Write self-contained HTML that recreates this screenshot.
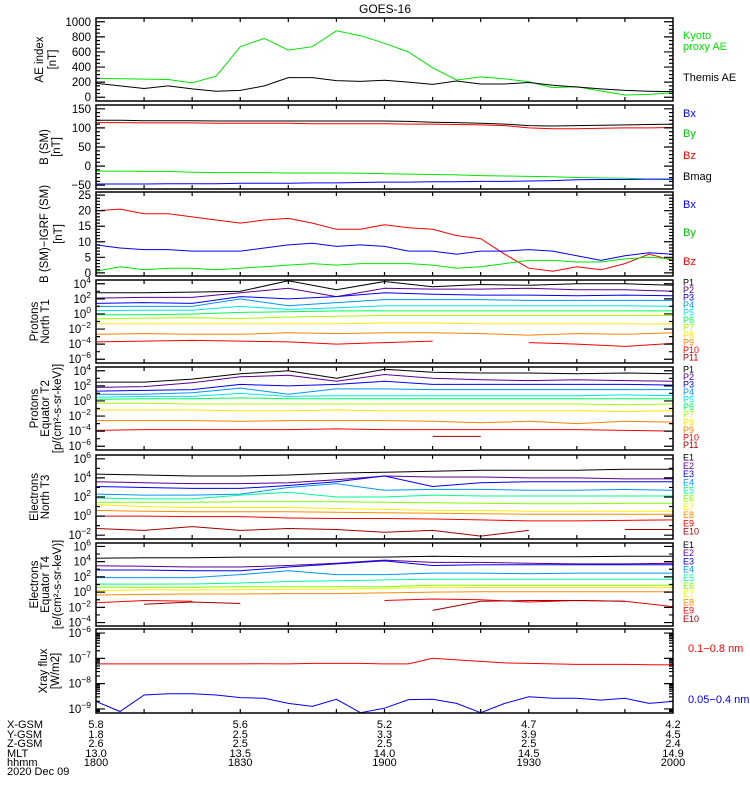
<!DOCTYPE html>
<html><head><meta charset="utf-8"><title>GOES-16</title>
<style>
html,body{margin:0;padding:0;background:#fff;}
svg{display:block;font-family:"Liberation Sans",sans-serif;}
</style></head>
<body>
<svg id="chart" width="750" height="800" viewBox="0 0 750 800" xmlns="http://www.w3.org/2000/svg">
<rect x="0" y="0" width="750" height="800" fill="#fff"/>
<text x="385" y="13" font-size="12" text-anchor="middle">GOES-16</text>
<g font-size="11">
<text x="7" y="728">X-GSM</text><text x="7" y="738">Y-GSM</text><text x="7" y="747">Z-GSM</text><text x="7" y="757">MLT</text><text x="7" y="766">hhmm</text><text x="7" y="775">2020 Dec 09</text>
</g>
<g id="plots"></g>
</svg>
<script>
// ---- data ----
const T25=[0,5,10,15,20,25,30,35,40,45,50,55,60,65,70,75,80,85,90,95,100,105,110,115,120];
const T13=[0,10,20,30,40,50,60,70,80,90,100,110,120];
const tickTimes=[0,30,60,90,120];
const xgsm=['5.8','5.6','5.2','4.7','4.2'];
const ygsm=['1.8','2.5','3.3','3.9','4.5'];
const zgsm=['2.6','2.5','2.5','2.5','2.4'];
const mlt=['13.0','13.5','14.0','14.5','14.9'];
const hhmm=['1800','1830','1900','1930','2000'];

const aeKyoto=[250,245,240,235,190,280,670,780,625,670,880,815,715,600,390,228,270,243,205,127,140,83,30,38,60];
const aeThemis=[185,150,115,150,110,80,90,150,260,260,220,210,225,200,170,215,175,175,195,160,135,110,90,80,75];

const bBx=[-47,-47,-47,-46,-46,-46,-45,-45,-45,-44,-44,-43,-42,-42,-41,-41,-40,-40,-39,-38,-36,-35,-35,-34,-34];
const bBy=[-13,-13,-14,-14,-16,-17,-17,-17,-18,-18,-18,-19,-20,-21,-22,-23,-25,-26,-27,-28,-30,-31,-32,-34,-35];
const bBz=[114,114,113,113,113,112,112,112,112,111,111,111,111,110,110,109,108,106,100,98,98,99,100,100,101];
const bBmag=[120,120,119,119,119,118,118,118,118,118,118,118,118,117,115,114,112,110,106,105,106,107,108,109,110];

const dBx=[9,8,7.5,7.5,7,7,7,8,9,9.5,8.5,9,8.5,7,7,6,7,7,7.5,7,5.5,4,5.5,6.5,6];
const dBy=[0.5,2,1,1.5,1.5,1,1.5,2,2.5,3,2.5,3,3,3,2.5,1.5,2,3,4,4,3.5,3.5,4.5,5,4.5];
const dBz=[20,20.5,19,19,18,17,16,17,17.5,16,14,14,15.5,14.5,14,12,11,6,1.5,0.5,2,1,3,6,4];

const p1T1=[2.8,2.8,2.9,3.0,4.4,3.2,4.3,3.6,3.9,3.8,4.0,4.0,3.8];
const p2T1=[2.1,2.2,2.2,2.8,3.4,2.3,3.4,3.3,3.3,3.4,3.2,3.2,3.0];
const p3T1=[1.4,1.5,1.4,2.3,2.0,2.3,2.8,2.6,2.5,2.5,2.4,2.5,2.4];
const p4T1=[1.0,1.0,1.0,2.0,1.1,1.5,1.9,1.9,1.9,1.8,1.8,1.8,1.8];
const p5T1=[0.45,0.5,0.5,1.0,0.6,0.8,1.1,1.1,1.1,1.1,1.1,1.1,1.0];
const p6T1=[-0.1,-0.1,0.0,0.2,0.3,0.4,0.4,0.4,0.4,0.4,0.4,0.4,0.4];
const p7T1=[-0.65,-0.55,-0.5,-0.6,-0.4,-0.3,-0.2,-0.2,-0.2,-0.2,-0.2,-0.2,-0.2];
const p8T1=[-1.3,-1.3,-1.3,-1.3,-1.3,-1.3,-1.2,-1.2,-1.3,-1.3,-1.3,-1.3,-1.35];
const p9T1=[-2.7,-2.6,-2.7,-2.7,-2.5,-2.6,-2.5,-2.5,-2.6,-2.8,-2.6,-2.7,-2.5];
const p10T1=[-3.7,-3.6,-3.5,-3.6,-3.7,-4.0,-3.8,-3.6,null,-3.8,-4.0,-4.3,-3.9];
const p11T1=[null,null,null,null,null,null,null,null,null,null,null,null,null];

const p1T2=[2.5,2.5,2.9,3.6,4.0,3.0,4.2,3.8,3.7,3.7,3.6,3.7,3.6];
const p2T2=[1.8,1.9,2.4,3.2,3.4,2.6,3.5,3.0,2.8,2.7,2.8,2.7,2.6];
const p3T2=[1.3,1.4,1.5,2.2,2.0,2.2,2.6,2.2,2.2,2.2,2.2,2.2,2.1];
const p4T2=[0.9,0.9,1.1,1.7,0.9,1.6,1.6,1.5,1.5,1.5,1.5,1.5,1.5];
const p5T2=[0.5,0.6,0.6,1.0,0.6,0.7,0.7,0.7,0.7,0.7,0.7,0.8,0.7];
const p6T2=[0.2,0.3,0.3,0.4,0.3,0.3,0.3,0.3,0.3,0.3,0.3,0.3,0.3];
const p7T2=[-0.3,-0.3,-0.4,-0.4,-0.4,-0.4,-0.4,-0.4,-0.4,-0.4,-0.4,-0.5,-0.4];
const p8T2=[-1.2,-1.2,-1.2,-1.3,-1.3,-1.2,-1.3,-1.3,-1.3,-1.3,-1.3,-1.4,-1.3];
const p9T2=[-2.6,-2.6,-2.6,-2.7,-2.6,-2.6,-2.6,-2.7,-2.9,-2.7,-3.0,-2.7,-2.8];
const p10T2=[-3.9,-3.8,-3.8,-3.8,-3.8,-3.7,-3.8,-3.8,-3.8,-3.8,-3.8,-3.9,-4.0];
const p11T2=[null,null,null,null,null,null,null,-4.7,-4.7,null,null,null,null];

const e1T3=[4.4,4.3,4.2,4.2,4.3,4.5,4.6,4.7,4.8,4.8,4.8,4.9,4.9];
const e2T3=[3.6,3.5,3.4,3.4,3.5,3.8,4.2,4.1,4.1,4.0,4.0,3.9,3.9];
const e3T3=[3.1,3.0,2.9,2.9,3.2,3.6,4.2,3.1,3.5,3.6,3.6,3.6,3.6];
const e4T3=[2.3,2.2,2.2,2.3,3.0,3.4,2.7,2.8,2.8,2.7,2.7,2.8,2.7];
const e5T3=[1.9,1.8,1.8,2.2,2.5,2.0,2.0,2.2,2.1,2.1,2.1,2.1,2.1];
const e6T3=[1.45,1.45,1.45,1.5,1.5,1.5,1.45,1.4,1.35,1.3,1.3,1.35,1.35];
const e7T3=[1.2,1.0,0.9,0.9,0.9,0.8,0.7,0.6,0.6,0.5,0.5,0.5,0.5];
const e8T3=[0.6,0.5,0.45,0.45,0.45,0.4,0.35,0.3,0.25,0.2,0.2,0.2,0.2];
const e9T3=[0.0,0.0,-0.05,-0.05,-0.2,-0.25,-0.25,-0.3,-0.4,-0.5,-0.5,-0.45,-0.4];
const e10T3=[-1.3,-1.5,-1.1,-1.5,-1.3,-1.4,-1.7,-1.5,-2.1,-1.5,null,-1.4,-1.4];

const e1T4=[4.45,4.5,4.5,4.6,4.6,4.6,4.6,4.7,4.65,4.65,4.65,4.7,4.7];
const e2T4=[3.45,3.4,3.3,3.3,3.5,3.8,4.2,3.9,3.9,3.8,3.7,3.7,3.8];
const e3T4=[2.9,2.9,2.8,2.8,3.3,3.7,4.1,3.5,3.6,3.6,3.6,3.6,3.6];
const e4T4=[1.9,1.9,1.9,2.3,2.8,2.3,2.3,2.5,2.5,2.4,2.5,2.5,2.5];
const e5T4=[1.07,1.05,1.07,1.2,1.4,1.5,1.6,1.7,1.7,1.7,1.7,1.7,1.7];
const e6T4=[0.63,0.63,0.63,0.7,0.7,0.7,0.7,0.9,0.9,0.9,0.9,0.9,0.9];
const e7T4=[0.2,0.3,0.28,0.3,0.4,0.4,0.5,0.6,0.6,0.6,0.6,0.6,0.6];
const e8T4=[-0.38,-0.3,-0.25,-0.25,-0.2,-0.2,-0.1,0.0,0.05,0.05,0.05,0.05,0.05];
const e9T4=[-1.4,-1.1,-1.2,null,null,null,-1.1,-0.9,-1.0,-1.3,-1.1,-1.2,-1.9];
const e10T4=[null,-1.6,-1.3,-1.5,null,null,null,-2.4,-1.2,-1.1,-1.1,-1.2,null];

const xrayLong=[-7.22,-7.22,-7.22,-7.22,-7.22,-7.22,-7.22,-7.21,-7.22,-7.2,-7.2,-7.2,-7.22,-7.22,-7.0,-7.06,-7.12,-7.18,-7.2,-7.22,-7.24,-7.24,-7.24,-7.25,-7.26];
const xrayShort=[-8.7,-9.1,-8.45,-8.4,-8.4,-8.45,-8.55,-8.58,-8.78,-8.9,-8.62,-9.15,-8.97,-8.63,-8.62,-8.78,-9.15,-8.78,-8.52,-8.58,-8.58,-8.65,-8.58,-8.78,-8.7];

// ---- rendering ----
const NS='http://www.w3.org/2000/svg';
const root=document.getElementById('plots');
const X0=96,X1=673;
function xs(t){return X0+(t/120)*(X1-X0);}
function mk(tag,attrs,parent){const e=document.createElementNS(NS,tag);for(const k in attrs)e.setAttribute(k,attrs[k]);(parent||root).appendChild(e);return e;}

const PC=['#000000','#5a0096','#0000ff','#0096ff','#00e6e6','#00ff50','#a0ff00','#ffe600','#ff8200','#ff0000','#a00000'];
const EC=['#000000','#5a0096','#0000ff','#0096ff','#00ff96','#80ff00','#ffee00','#ff8c00','#ff0000','#a00000'];

function yScale(lo,hi,top,bot){return v=>bot-(v-lo)/(hi-lo)*(bot-top);}

function drawLine(g,ts,vals,yf,color,name){
  let d='',pen=false;
  for(let i=0;i<ts.length;i++){
    const v=vals[i];
    if(v===null||v===undefined){pen=false;continue;}
    d+=(pen?'L':'M')+xs(ts[i]).toFixed(1)+' '+yf(v).toFixed(1)+' ';
    pen=true;
  }
  const p=mk('path',{d:d||'M0 0',fill:'none',stroke:color,'stroke-width':1},g);
  
  
}

function panel(cfg){
  const g=mk('g',{});
  
  
  const yf=yScale(cfg.lo,cfg.hi,cfg.top,cfg.bot);
  const cid='clip-'+cfg.name;
  const cp=mk('clipPath',{id:cid},g);
  mk('rect',{x:X0,y:cfg.top,width:X1-X0,height:cfg.bot-cfg.top},cp);
  const lg=mk('g',{'clip-path':'url(#'+cid+')'},g);
  cfg.series.forEach(s=>drawLine(lg,s.t,s.v,yf,s.c,s.n));
  const fr=mk('rect',{x:X0,y:cfg.top,width:X1-X0,height:cfg.bot-cfg.top,fill:'none',stroke:'#000','stroke-width':1.5},g);
  
  
  let d='';
  for(let t=10;t<120;t+=10){const x=xs(t);d+=`M${x} ${cfg.top}v4M${x} ${cfg.bot}v-4`;}
  cfg.minor.forEach(v=>{const y=yf(v);if(y>cfg.top+0.5&&y<cfg.bot-0.5)d+=`M${X0} ${y}h4M${X1} ${y}h-4`;});
  cfg.major.forEach(v=>{const y=yf(v);if(y>cfg.top+0.5&&y<cfg.bot-0.5)d+=`M${X0} ${y}h9M${X1} ${y}h-9`;});
  mk('path',{d:d,stroke:'#000','stroke-width':1.2,fill:'none'},g);
  const ax=mk('g',{'font-size':'11.5','text-anchor':'end'},g);
  
  
  cfg.labels.forEach(v=>{
    const y=yf(v)+4;
    const tx=mk('text',{x:91,y:y},ax);
    if(cfg.log){
      tx.appendChild(document.createTextNode('10'));
      const sp=mk('tspan',{dy:-5,'font-size':'8.5'},tx);
      sp.textContent=(v<0?'\u2212':'')+Math.abs(v);
    } else tx.textContent=(v<0?'\u2212':'')+Math.abs(v);
  });
  const tg=mk('g',{'font-size':'11.5','text-anchor':'middle'},g);
  
  
  const cy=(cfg.top+cfg.bot)/2;
  cfg.title.forEach((s,i)=>{
    const x=cfg.tx[i];
    const t=mk('text',{x:x,y:cy,transform:`rotate(-90 ${x} ${cy})`},tg);
    t.textContent=s;
  });
  const rg=mk('g',{'font-size':cfg.legSize||11},g);
  
  
  cfg.legend.forEach(l=>{const t=mk('text',{x:l.x||683,y:l.y,fill:l.c},rg);t.textContent=l.s;});
}

function range(a,b,s){const r=[];for(let v=a;v<=b+1e-9;v+=s)r.push(+v.toFixed(6));return r;}
function decades(a,b){return range(a,b,1);}

panel({name:'ae-index-panel',top:18,bot:101,lo:-50,hi:1050,major:range(0,1000,200),minor:range(0,1050,50),labels:range(0,1000,200),
 title:['AE index','[nT]'],tx:[43,56],
 series:[{t:T25,v:aeKyoto,c:'#00e600',n:'kyoto-ae-line'},{t:T25,v:aeThemis,c:'#000',n:'themis-ae-line'}],
 legend:[{s:'Kyoto',y:39,c:'#00e600'},{s:'proxy AE',y:50,c:'#00e600'},{s:'Themis AE',y:81,c:'#000'}]});
panel({name:'b-sm-panel',top:105,bot:189,lo:-60,hi:160,major:range(-50,150,50),minor:range(-60,160,10),labels:range(-50,150,50),
 title:['B (SM)','[nT]'],tx:[48,60],
 series:[{t:T25,v:bBmag,c:'#000',n:'bmag-line'},{t:T25,v:bBz,c:'#ff0000',n:'bz-line'},{t:T25,v:bBy,c:'#00e600',n:'by-line'},{t:T25,v:bBx,c:'#0000ff',n:'bx-line'}],
 legend:[{s:'Bx',y:117,c:'#0000ff'},{s:'By',y:137,c:'#00c000'},{s:'Bz',y:159,c:'#ff0000'},{s:'Bmag',y:180,c:'#000'}]});
panel({name:'b-minus-igrf-panel',top:192,bot:276,lo:-1,hi:26,major:range(0,25,5),minor:range(0,26,1),labels:range(0,25,5),
 title:['B (SM)\u2212IGRF (SM)','[nT]'],tx:[48,62],
 series:[{t:T25,v:dBz,c:'#ff0000',n:'dbz-line'},{t:T25,v:dBx,c:'#0000ff',n:'dbx-line'},{t:T25,v:dBy,c:'#00e600',n:'dby-line'}],
 legend:[{s:'Bx',y:208,c:'#0000ff'},{s:'By',y:236,c:'#00c000'},{s:'Bz',y:265,c:'#ff0000'}]});

const pT1=[p1T1,p2T1,p3T1,p4T1,p5T1,p6T1,p7T1,p8T1,p9T1,p10T1,p11T1];
const pT2=[p1T2,p2T2,p3T2,p4T2,p5T2,p6T2,p7T2,p8T2,p9T2,p10T2,p11T2];
const eT3=[e1T3,e2T3,e3T3,e4T3,e5T3,e6T3,e7T3,e8T3,e9T3,e10T3];
const eT4=[e1T4,e2T4,e3T4,e4T4,e5T4,e6T4,e7T4,e8T4,e9T4,e10T4];
function leg(prefix,n,y0,step,cols){const r=[];for(let i=0;i<n;i++)r.push({s:prefix+(i+1),y:y0+i*step+3,c:cols[i]});return r;}
function ser(arrs,cols,p){return arrs.map((a,i)=>({t:T13,v:a,c:cols[i],n:p+(i+1)+'-line'}));}

panel({name:'protons-t1-panel',top:280,bot:363,lo:-6.5,hi:4.5,log:true,major:[-6,-4,-2,0,2,4],minor:decades(-6,4),labels:[4,2,0,-2,-4,-6],
 title:['Protons','North T1'],tx:[38,49],series:ser(pT1,PC,'p'),legend:leg('P',11,282.7,7.46,PC),legSize:9});
panel({name:'protons-t2-panel',top:367,bot:450,lo:-6.5,hi:4.5,log:true,major:[-6,-4,-2,0,2,4],minor:decades(-6,4),labels:[4,2,0,-2,-4,-6],
 title:['Protons','Equator T2','[p/(cm\u00b2-s-sr-keV)]'],tx:[38,49,61],series:ser(pT2,PC,'p'),legend:leg('P',11,369.3,7.57,PC),legSize:9});
panel({name:'electrons-t3-panel',top:455,bot:539,lo:-2.4,hi:6.4,log:true,major:[-2,0,2,4,6],minor:decades(-2,6),labels:[6,4,2,0,-2],
 title:['Electrons','North T3'],tx:[38,49],series:ser(eT3,EC,'e'),legend:leg('E',10,457.7,8.2,EC),legSize:9});
panel({name:'electrons-t4-panel',top:543,bot:626,lo:-4.45,hi:6.45,log:true,major:[-4,-2,0,2,4,6],minor:decades(-4,6),labels:[6,4,2,0,-2,-4],
 title:['Electrons','Equator T4','[e/(cm\u00b2-s-sr-keV)]'],tx:[38,49,61],series:ser(eT4,EC,'e'),legend:leg('E',10,545,8.2,EC),legSize:9});

const xMinor=[];for(let dd=-10;dd<=-6;dd++)for(let m=1;m<10;m++)xMinor.push(dd+Math.log10(m));
panel({name:'xray-flux-panel',top:629,bot:713,lo:-9.16,hi:-5.84,log:true,major:[-9,-8,-7,-6],minor:xMinor,labels:[-6,-7,-8,-9],
 title:['Xray flux','[W/m2]'],tx:[47,59],
 series:[{t:T25,v:xrayLong,c:'#ff0000',n:'xray-long-line'},{t:T25,v:xrayShort,c:'#0000ff',n:'xray-short-line'}],
 legend:[{s:'0.1\u22120.8 nm',y:652,c:'#ff0000',x:688},{s:'0.05\u22120.4 nm',y:703,c:'#0000ff',x:688}]});

const eg=mk('g',{'font-size':'11','text-anchor':'middle'});


[xgsm,ygsm,zgsm,mlt,hhmm].forEach((arr,r)=>{
  const ys=[728,738,747,757,766][r];
  arr.forEach((s,i)=>{const t=mk('text',{x:xs(tickTimes[i]),y:ys},eg);t.textContent=s;});
});
</script>
</body></html>
